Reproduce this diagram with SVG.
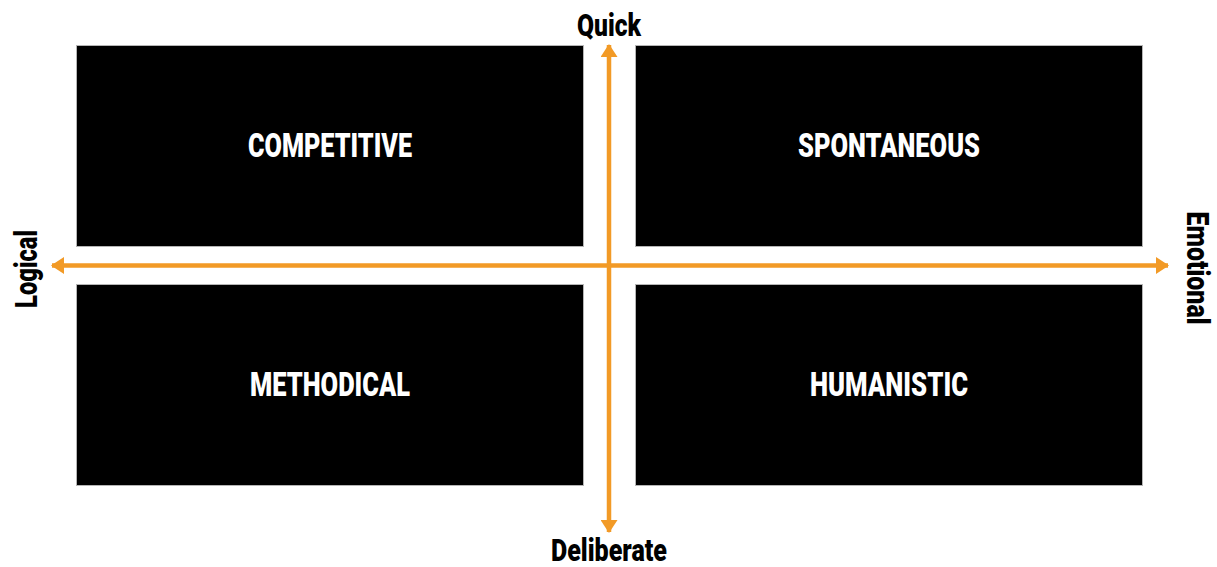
<svg xmlns="http://www.w3.org/2000/svg" width="1217" height="567" viewBox="0 0 1217 567">
  <style>
    .box { fill: #000; stroke: #b5b5b5; stroke-width: 1; }
    .lbl { font-family: Roboto, "DejaVu Sans Condensed", sans-serif; font-weight: 900; fill: #fff; font-size: 34px; text-anchor: middle; }
    .axis-lbl { font-family: Roboto, "DejaVu Sans Condensed", sans-serif; font-weight: 900; fill: #000; font-size: 31px; text-anchor: middle; }
    .axis { stroke: #f29a26; stroke-width: 4.5; fill: none; }
  </style>
  <defs>
    <marker id="head" viewBox="0 0 13 17" refX="12" refY="8.5" markerWidth="13" markerHeight="17" markerUnits="userSpaceOnUse" orient="auto-start-reverse">
      <path d="M0,0 L13,8.5 L0,17 Z" fill="#f29a26"/>
    </marker>
  </defs>
  <rect width="1217" height="567" fill="#fff"/>

  <g id="competitive">
    <rect class="box" x="76.5" y="45.5" width="507" height="201"/>
    <text class="lbl" x="330" y="157" textLength="164" lengthAdjust="spacingAndGlyphs">COMPETITIVE</text>
  </g>
  <g id="spontaneous">
    <rect class="box" x="635.5" y="45.5" width="507" height="201"/>
    <text class="lbl" x="889" y="157" textLength="182" lengthAdjust="spacingAndGlyphs">SPONTANEOUS</text>
  </g>
  <g id="methodical">
    <rect class="box" x="76.5" y="284.5" width="507" height="201"/>
    <text class="lbl" x="330" y="396" textLength="160" lengthAdjust="spacingAndGlyphs">METHODICAL</text>
  </g>
  <g id="humanistic">
    <rect class="box" x="635.5" y="284.5" width="507" height="201"/>
    <text class="lbl" x="889" y="396" textLength="158" lengthAdjust="spacingAndGlyphs">HUMANISTIC</text>
  </g>

  <g id="connectors">
    <line class="axis" x1="609" y1="265.5" x2="609" y2="45" marker-end="url(#head)"/>
    <line class="axis" x1="609" y1="265.5" x2="609" y2="532" marker-end="url(#head)"/>
    <line class="axis" x1="609" y1="265.5" x2="52" y2="265.5" marker-end="url(#head)"/>
    <line class="axis" x1="609" y1="265.5" x2="1168" y2="265.5" marker-end="url(#head)"/>
  </g>

  <g id="axis-labels">
    <text class="axis-lbl" x="609" y="36" textLength="64" lengthAdjust="spacingAndGlyphs">Quick</text>
    <text class="axis-lbl" x="609" y="561" textLength="116" lengthAdjust="spacingAndGlyphs">Deliberate</text>
    <text class="axis-lbl" transform="translate(37,269) rotate(-90)" x="0" y="0" textLength="78" lengthAdjust="spacingAndGlyphs">Logical</text>
    <text class="axis-lbl" transform="translate(1187,268) rotate(90)" x="0" y="0" textLength="113" lengthAdjust="spacingAndGlyphs">Emotional</text>
  </g>
</svg>
